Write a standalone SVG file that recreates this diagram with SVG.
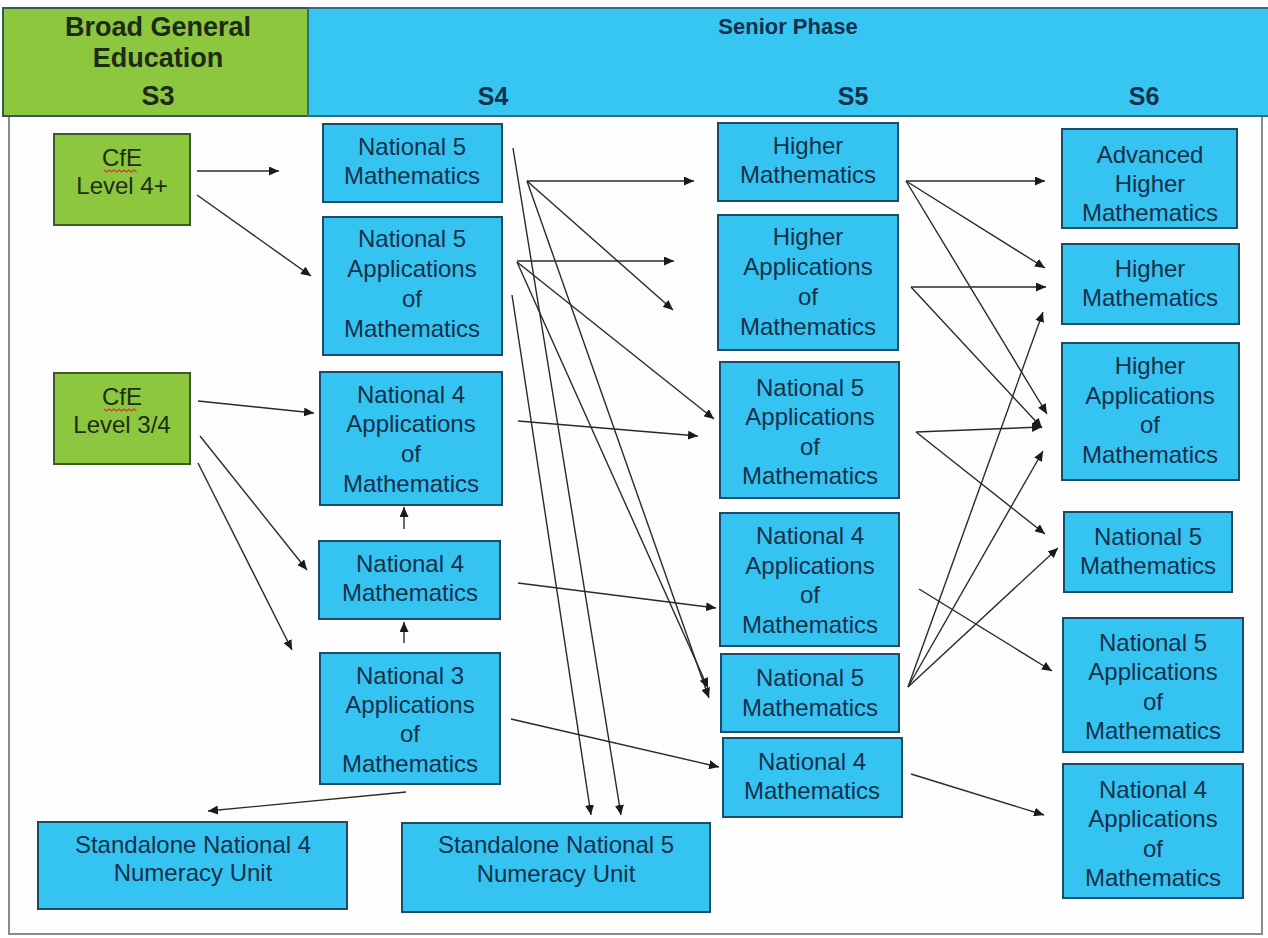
<svg xmlns="http://www.w3.org/2000/svg" width="1268" height="938" viewBox="0 0 1268 938">
<defs>
<marker id="ah" markerUnits="userSpaceOnUse" markerWidth="11" markerHeight="9" refX="10" refY="4.5" orient="auto">
<path d="M0,0 L10,4.5 L0,9 z" fill="#1a1a1a"/>
</marker>
<style>
.bx{fill:#35c4f1;stroke:#1d4a66;stroke-width:2}
.gx{fill:#8dc63f;stroke:#3d5a22;stroke-width:2}
.t{font-family:"Liberation Sans",Arial,sans-serif;font-size:24px;fill:#17304a;text-anchor:middle}
.tg{font-family:"Liberation Sans",Arial,sans-serif;font-size:24px;fill:#1f2d16;text-anchor:middle}
.h{font-family:"Liberation Sans",Arial,sans-serif;font-weight:bold;text-anchor:middle}
.c line{stroke:#2a2a2a;stroke-width:1.4;marker-end:url(#ah)}
.sq{fill:none;stroke:#d23a2a;stroke-width:1.3}
</style>
</defs>
<rect x="0" y="0" width="1268" height="938" fill="#ffffff"/>
<!-- body frame -->
<rect x="9" y="116" width="1253" height="818" fill="#fdfdfd" stroke="#8a8a8a" stroke-width="2"/>
<!-- header -->
<g id="header">
<rect x="3" y="8" width="305" height="108" fill="#8dc63f" stroke="#2f5a57" stroke-width="2"/>
<rect x="308" y="8" width="962" height="108" fill="#37c6f2" stroke="#2f6f85" stroke-width="2"/>
<text class="h" x="158" y="36" font-size="27" fill="#1e2a18">Broad General</text>
<text class="h" x="158" y="67" font-size="27" fill="#1e2a18">Education</text>
<text class="h" x="158" y="105" font-size="27" fill="#1e2a18">S3</text>
<text class="h" x="788" y="34" font-size="22" fill="#15304c">Senior Phase</text>
<text class="h" x="493" y="105" font-size="25" fill="#15304c">S4</text>
<text class="h" x="853" y="105" font-size="25" fill="#15304c">S5</text>
<text class="h" x="1144" y="105" font-size="25" fill="#15304c">S6</text>
</g>
<!-- S3 -->
<g id="cfe4plus">
<rect class="gx" x="54" y="134" width="136" height="91"/>
<text class="tg" x="122" y="166">CfE</text>
<path class="sq" d="M104,170 l2.5,2 l2.5,-2 l2.5,2 l2.5,-2 l2.5,2 l2.5,-2 l2.5,2 l2.5,-2 l2.5,2 l2.5,-2 l2.5,2 l2.5,-2 l2.5,2"/>
<text class="tg" x="122" y="194">Level 4+</text>
</g>
<g id="cfe34">
<rect class="gx" x="54" y="373" width="136" height="91"/>
<text class="tg" x="122" y="405">CfE</text>
<path class="sq" d="M104,409 l2.5,2 l2.5,-2 l2.5,2 l2.5,-2 l2.5,2 l2.5,-2 l2.5,2 l2.5,-2 l2.5,2 l2.5,-2 l2.5,2 l2.5,-2 l2.5,2"/>
<text class="tg" x="122" y="433">Level 3/4</text>
</g>
<!-- S4 -->
<g id="s4-n5math">
<rect class="bx" x="323" y="124" width="179" height="78"/>
<text class="t" x="412" y="155">National 5</text>
<text class="t" x="412" y="184">Mathematics</text>
</g>
<g id="s4-n5apps">
<rect class="bx" x="323" y="217" width="179" height="138"/>
<text class="t" x="412" y="247">National 5</text>
<text class="t" x="412" y="277">Applications</text>
<text class="t" x="412" y="307">of</text>
<text class="t" x="412" y="337">Mathematics</text>
</g>
<g id="s4-n4apps">
<rect class="bx" x="320" y="372" width="182" height="133"/>
<text class="t" x="411" y="403">National 4</text>
<text class="t" x="411" y="432">Applications</text>
<text class="t" x="411" y="462">of</text>
<text class="t" x="411" y="492">Mathematics</text>
</g>
<g id="s4-n4math">
<rect class="bx" x="319" y="541" width="181" height="78"/>
<text class="t" x="410" y="572">National 4</text>
<text class="t" x="410" y="601">Mathematics</text>
</g>
<g id="s4-n3apps">
<rect class="bx" x="320" y="653" width="180" height="131"/>
<text class="t" x="410" y="684">National 3</text>
<text class="t" x="410" y="713">Applications</text>
<text class="t" x="410" y="742">of</text>
<text class="t" x="410" y="772">Mathematics</text>
</g>
<g id="standalone-n4">
<rect class="bx" x="38" y="822" width="309" height="87"/>
<text class="t" x="193" y="853">Standalone National 4</text>
<text class="t" x="193" y="881">Numeracy Unit</text>
</g>
<g id="standalone-n5">
<rect class="bx" x="402" y="823" width="308" height="89"/>
<text class="t" x="556" y="853">Standalone National 5</text>
<text class="t" x="556" y="882">Numeracy Unit</text>
</g>
<!-- S5 -->
<g id="s5-highermath">
<rect class="bx" x="718" y="123" width="180" height="78"/>
<text class="t" x="808" y="154">Higher</text>
<text class="t" x="808" y="183">Mathematics</text>
</g>
<g id="s5-higherapps">
<rect class="bx" x="718" y="215" width="180" height="135"/>
<text class="t" x="808" y="245">Higher</text>
<text class="t" x="808" y="275">Applications</text>
<text class="t" x="808" y="305">of</text>
<text class="t" x="808" y="335">Mathematics</text>
</g>
<g id="s5-n5apps">
<rect class="bx" x="720" y="362" width="179" height="136"/>
<text class="t" x="810" y="396">National 5</text>
<text class="t" x="810" y="425">Applications</text>
<text class="t" x="810" y="455">of</text>
<text class="t" x="810" y="484">Mathematics</text>
</g>
<g id="s5-n4apps">
<rect class="bx" x="720" y="513" width="179" height="133"/>
<text class="t" x="810" y="544">National 4</text>
<text class="t" x="810" y="574">Applications</text>
<text class="t" x="810" y="603">of</text>
<text class="t" x="810" y="633">Mathematics</text>
</g>
<g id="s5-n5math">
<rect class="bx" x="721" y="654" width="178" height="78"/>
<text class="t" x="810" y="686">National 5</text>
<text class="t" x="810" y="716">Mathematics</text>
</g>
<g id="s5-n4math">
<rect class="bx" x="723" y="738" width="179" height="79"/>
<text class="t" x="812" y="770">National 4</text>
<text class="t" x="812" y="799">Mathematics</text>
</g>
<!-- S6 -->
<g id="s6-advhigher">
<rect class="bx" x="1062" y="129" width="175" height="99"/>
<text class="t" x="1150" y="163">Advanced</text>
<text class="t" x="1150" y="192">Higher</text>
<text class="t" x="1150" y="221">Mathematics</text>
</g>
<g id="s6-highermath">
<rect class="bx" x="1062" y="244" width="177" height="80"/>
<text class="t" x="1150" y="277">Higher</text>
<text class="t" x="1150" y="306">Mathematics</text>
</g>
<g id="s6-higherapps">
<rect class="bx" x="1062" y="343" width="177" height="137"/>
<text class="t" x="1150" y="374">Higher</text>
<text class="t" x="1150" y="404">Applications</text>
<text class="t" x="1150" y="433">of</text>
<text class="t" x="1150" y="463">Mathematics</text>
</g>
<g id="s6-n5math">
<rect class="bx" x="1064" y="512" width="168" height="80"/>
<text class="t" x="1148" y="545">National 5</text>
<text class="t" x="1148" y="574">Mathematics</text>
</g>
<g id="s6-n5apps">
<rect class="bx" x="1063" y="618" width="180" height="134"/>
<text class="t" x="1153" y="651">National 5</text>
<text class="t" x="1153" y="680">Applications</text>
<text class="t" x="1153" y="710">of</text>
<text class="t" x="1153" y="739">Mathematics</text>
</g>
<g id="s6-n4apps">
<rect class="bx" x="1063" y="764" width="180" height="134"/>
<text class="t" x="1153" y="798">National 4</text>
<text class="t" x="1153" y="827">Applications</text>
<text class="t" x="1153" y="857">of</text>
<text class="t" x="1153" y="886">Mathematics</text>
</g>
<!-- connectors -->
<g id="connectors" class="c">
<line x1="197" y1="171" x2="279" y2="171"/>
<line x1="197" y1="195" x2="311" y2="276"/>
<line x1="198" y1="401" x2="314" y2="413"/>
<line x1="200" y1="436" x2="307" y2="570"/>
<line x1="198" y1="463" x2="292" y2="650"/>
<line x1="404" y1="529" x2="404" y2="507"/>
<line x1="404" y1="643" x2="404" y2="622"/>
<line x1="406" y1="792" x2="208" y2="811"/>
<line x1="527" y1="181" x2="694" y2="181"/>
<line x1="527" y1="181" x2="673" y2="310"/>
<line x1="527" y1="181" x2="709" y2="698"/>
<line x1="513" y1="148" x2="621" y2="815"/>
<line x1="517" y1="261" x2="674" y2="261"/>
<line x1="517" y1="262" x2="714" y2="419"/>
<line x1="517" y1="262" x2="708" y2="688"/>
<line x1="512" y1="295" x2="591" y2="815"/>
<line x1="518" y1="421" x2="698" y2="436"/>
<line x1="518" y1="583" x2="716" y2="608"/>
<line x1="511" y1="719" x2="719" y2="767"/>
<line x1="906" y1="181" x2="1045" y2="181"/>
<line x1="906" y1="181" x2="1045" y2="268"/>
<line x1="906" y1="181" x2="1047" y2="414"/>
<line x1="911" y1="287" x2="1046" y2="287"/>
<line x1="911" y1="287" x2="1042" y2="428"/>
<line x1="916" y1="432" x2="1042" y2="427"/>
<line x1="916" y1="432" x2="1045" y2="534"/>
<line x1="919" y1="589" x2="1052" y2="671"/>
<line x1="908" y1="687" x2="1043" y2="312"/>
<line x1="908" y1="687" x2="1043" y2="451"/>
<line x1="908" y1="687" x2="1058" y2="548"/>
<line x1="911" y1="774" x2="1044" y2="815"/>
</g>
</svg>
